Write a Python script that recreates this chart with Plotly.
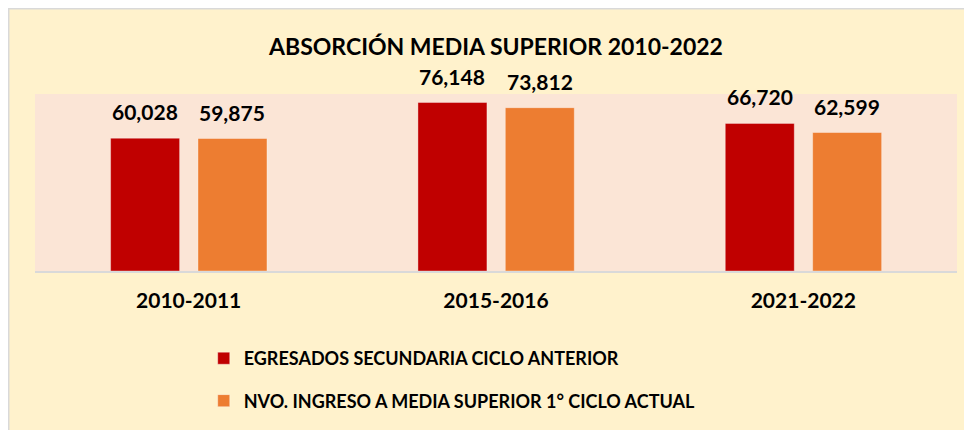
import plotly.graph_objects as go

categories = ["2010-2011", "2015-2016", "2021-2022"]
series_names = ["EGRESADOS SECUNDARIA CICLO ANTERIOR",
                "NVO. INGRESO A MEDIA SUPERIOR 1° CICLO ACTUAL"]
egresados = [60028, 76148, 66720]
nuevo_ingreso = [59875, 73812, 62599]
colors = ["#C00000", "#ED7D31"]
title_text = "ABSORCIÓN MEDIA SUPERIOR 2010-2022"

FONT = "Lato"
bar_width = 0.2245
offsets = [-0.254, 0.0303]

fig = go.Figure()
series = [egresados, nuevo_ingreso]
for i, (name, vals) in enumerate(zip(series_names, series)):
    fig.add_trace(go.Bar(
        x=categories, y=vals, name=name,
        marker=dict(color=colors[i], line=dict(color="rgba(255,255,255,0.35)", width=1)),
        width=bar_width, offset=offsets[i],
        legendgroup=f"g{i}",
        hoverinfo="skip",
    ))

annotations = []
for i, vals in enumerate(series):
    for j, v in enumerate(vals):
        annotations.append(dict(
            x=j + offsets[i] + bar_width / 2, y=v, xref="x", yref="y",
            text=f"{v:,}", showarrow=False, yanchor="bottom", yshift=12,
            font=dict(family=FONT, size=21, color="#000000", weight="bold"),
        ))

shapes = [
    # chart area background with border
    dict(type="rect", xref="paper", yref="paper", x0=-0.0285, x1=3, y0=-3, y1=1.4816,
         fillcolor="#FFF2CC", line=dict(color="#D9D9D9", width=1.5), layer="below"),
    # plot area band
    dict(type="rect", xref="paper", yref="paper", x0=0, x1=1, y0=0, y1=1,
         fillcolor="#FBE5D6", line=dict(width=0), layer="below"),
]

fig.update_layout(
    width=972, height=430,
    margin=dict(l=27, r=23, t=86, b=167, autoexpand=False),
    paper_bgcolor="#FFF2CC",
    plot_bgcolor="rgba(0,0,0,0)",
    barmode="overlay",
    title=dict(text=title_text, x=0.5, xanchor="center", xref="paper",
               y=1 - 39 / 430, yanchor="middle", automargin=False,
               font=dict(family=FONT, size=23, color="#000000", weight="bold")),
    xaxis=dict(type="category", range=[-0.5, 2.5], showgrid=False,
               showline=True, linecolor="#D9D9D9", linewidth=2,
               ticks="outside", ticklen=10, tickcolor="rgba(0,0,0,0)",
               tickfont=dict(family=FONT, size=21, color="#000000", weight="bold"),
               automargin=False, fixedrange=True),
    yaxis=dict(range=[0, 80000], visible=False, showgrid=False, fixedrange=True),
    legend=dict(orientation="v", x=0.183, xanchor="left", y=-0.39, yanchor="top",
                font=dict(family=FONT, size=18, color="#000000", weight="bold"),
                bgcolor="rgba(0,0,0,0)", traceorder="grouped", tracegroupgap=16,
                itemclick=False, itemdoubleclick=False),
    annotations=annotations,
    shapes=shapes,
    showlegend=True,
)

fig.write_html("out.html")
